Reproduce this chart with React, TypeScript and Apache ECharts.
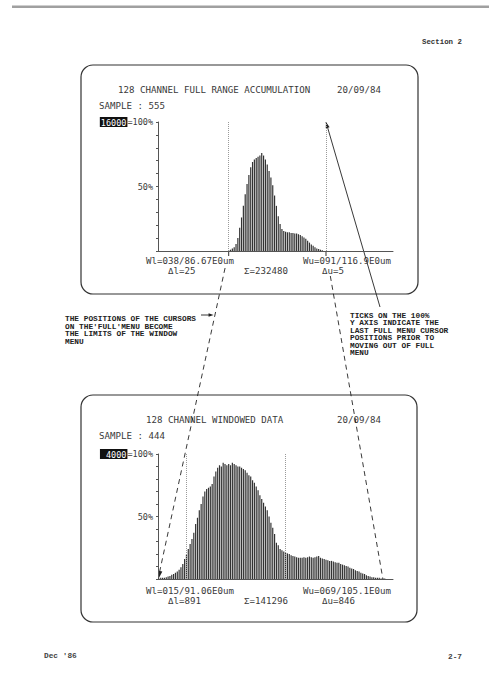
import React, { useEffect, useRef } from "react";
import * as echarts from "echarts";

// 128 analyser channels
const CHANNELS: string[] = Array.from({ length: 128 }, (_, i) => String(i));

// % of full scale (16000 counts = 100%)
const FULL_RANGE_PCT: number[] = [
  0, 0, 0, 0, 0, 0, 0, 0, 0, 0,
  0, 0, 0, 0, 0, 0, 0, 0, 0, 0,
  0, 0, 0, 0, 0, 0, 0, 0, 0, 0,
  0, 0, 0, 0, 0, 0, 0, 0, 0.5, 1,
  2, 3, 5.5, 10, 18, 26, 35, 44, 52, 59,
  65, 69, 71, 72, 73, 74, 76, 74, 71, 67,
  62, 57, 51, 43, 35, 27, 21, 17, 15.5, 15,
  14.5, 14.5, 14, 14, 13.5, 13.5, 13, 12.5, 11.5, 10.5,
  9.5, 8, 6.5, 5, 4, 3, 2, 1.5, 1, 0.5,
  0, 0, 0, 0, 0, 0, 0, 0, 0, 0,
  0, 0, 0, 0, 0, 0, 0, 0, 0, 0,
  0, 0, 0, 0, 0, 0, 0, 0, 0, 0,
  0, 0, 0, 0, 0, 0, 0, 0,
];

// % of full scale (4000 counts = 100%)
const WINDOWED_PCT: number[] = [
  0.5, 1, 1, 1, 1.5, 2, 2.5, 3.5, 4, 5,
  6, 7.5, 9.5, 12, 16, 19.5, 24, 28, 32, 37,
  44, 49, 55, 60, 66, 70, 72, 73, 74, 76,
  82, 86, 89, 91, 90, 93, 92, 91, 92, 91,
  93, 92, 91, 90, 90, 89, 88, 87, 85, 83,
  82, 79, 77, 74, 71, 67, 64, 61, 58, 55,
  50, 45, 41, 36, 29, 27, 24, 23, 22, 21,
  20.5, 20, 19, 18.5, 18, 17.5, 17, 17, 17, 17.5,
  17, 17.5, 18, 17.5, 17, 17.5, 18, 18.5, 17, 16.5,
  16, 15.5, 15, 14.5, 14.5, 14, 13.5, 13, 13, 12,
  11.5, 11, 10.5, 10, 9, 8.5, 8, 7, 6.5, 6,
  5, 4.5, 4, 3, 2.5, 2, 1.5, 1.5, 1, 1,
  1, 0.5, 0.5, 0.5, 0, 0, 0, 0,
];

const FULL_CURSORS: number[] = [38, 91];
const WINDOW_CURSORS: number[] = [15, 69];
const WINDOW_ENDS: number[] = [0, 122];

const FULL_SCALE = "16000";
const WINDOW_SCALE = "4000";
const Y_LABEL_MID = "50%";
const Y_LABEL_TOP = "100%";

const FULL_TEXT: string[] = [
  "128 CHANNEL FULL RANGE ACCUMULATION",
  "20/09/84",
  "SAMPLE : 555",
  "Wl=038/86.67E0um",
  "\u0394l=25",
  "\u03a3=232480",
  "Wu=091/116.9E0um",
  "\u0394u=5",
];
const WINDOW_TEXT: string[] = [
  "128 CHANNEL WINDOWED DATA",
  "20/09/84",
  "SAMPLE : 444",
  "Wl=015/91.06E0um",
  "\u0394l=891",
  "\u03a3=141296",
  "Wu=069/105.1E0um",
  "\u0394u=846",
];
const LEFT_NOTE: string[] = [
  "THE POSITIONS OF THE CURSORS",
  "ON THE'FULL'MENU BECOME",
  "THE LIMITS OF THE WINDOW",
  "MENU",
];
const RIGHT_NOTE: string[] = [
  "TICKS ON THE 100%",
  "Y AXIS INDICATE THE",
  "LAST FULL MENU CURSOR",
  "POSITIONS PRIOR TO",
  "MOVING OUT OF FULL",
  "MENU",
];
const PAGE_TEXT: string[] = ["Section 2", "Dec '86", "2-7"];

const SCREEN_FONT = "DejaVu Sans Mono";
const INK = "#3a3a3a";

function axisPair(gridIndex: number, scale: string) {
  return {
    x: {
      type: "category",
      gridIndex,
      data: CHANNELS,
      axisTick: { show: false },
      axisLabel: { show: false },
      axisLine: { lineStyle: { color: "#555", width: 1 } },
      splitLine: { show: false },
    },
    y: {
      type: "value",
      gridIndex,
      min: 0,
      max: 100,
      interval: 10,
      splitLine: { show: false },
      axisLine: { show: true, lineStyle: { color: "#555", width: 1 } },
      axisTick: { show: true, length: 2, lineStyle: { color: "#555" } },
      axisLabel: {
        margin: 5,
        color: INK,
        fontFamily: SCREEN_FONT,
        fontSize: 8.5,
        formatter: (v: number) =>
          v === 100 ? `{hl|${scale}}=${Y_LABEL_TOP}` : v === 50 ? Y_LABEL_MID : "",
        rich: {
          hl: {
            backgroundColor: "#111",
            color: "#fff",
            fontFamily: SCREEN_FONT,
            fontSize: 8.5,
            padding: [1, 1, 0, scale.length < 5 ? 6 : 1],
          },
        },
      },
    },
  };
}

function barSeries(idx: number, data: number[], cursors: number[]) {
  return {
    type: "bar",
    xAxisIndex: idx,
    yAxisIndex: idx,
    data,
    barCategoryGap: "35%",
    itemStyle: { color: "#333" },
    silent: true,
    markLine: {
      silent: true,
      symbol: ["none", "none"],
      label: { show: false },
      lineStyle: { color: "#9a9a9a", type: "dotted", width: 1 },
      data: cursors.map((c) => [
        { xAxis: c, yAxis: 0 },
        { xAxis: c, yAxis: 100 },
      ]),
    },
  };
}

function arrowHead(tip: number[], from: number[], len = 6, half = 2.3) {
  const dx = tip[0] - from[0];
  const dy = tip[1] - from[1];
  const L = Math.hypot(dx, dy);
  const ux = dx / L;
  const uy = dy / L;
  const bx = tip[0] - ux * len;
  const by = tip[1] - uy * len;
  return [
    [tip[0], tip[1]],
    [bx - uy * half, by + ux * half],
    [bx + uy * half, by - ux * half],
  ];
}

function pointAtY(a: number[], b: number[], y: number) {
  return [a[0] + ((b[0] - a[0]) * (y - a[1])) / (b[1] - a[1]), y];
}

function screenTexts(lines: string[], ox: number, oy: number, titleX: number) {
  const pos = [
    [titleX, 25],
    [256, 25],
    [18, 41],
    [65, 196.5],
    [87, 206.5],
    [163, 206.5],
    [222, 196.5],
    [241, 206.5],
  ];
  return lines.map((t, i) => ({
    type: "text",
    silent: true,
    x: ox + pos[i][0],
    y: oy + pos[i][1],
    scaleX: 1.1,
    style: {
      text: t,
      x: 0,
      y: 0,
      fill: INK,
      font: `8.3px "${SCREEN_FONT}"`,
      textAlign: "left",
      textVerticalAlign: "middle",
    },
  }));
}

function noteTexts(lines: string[], x: number, y0: number) {
  return lines.map((t, i) => ({
    type: "text",
    silent: true,
    style: {
      text: t,
      x,
      y: y0 + i * 7.5,
      fill: "#222",
      font: `bold 7.8px "Liberation Mono"`,
      textAlign: "left",
      textVerticalAlign: "middle",
    },
  }));
}

export default function App() {
  const ref = useRef<HTMLDivElement>(null);

  useEffect(() => {
    const el = ref.current!;
    const chart = echarts.init(el, null, { renderer: "svg" });
    const a0 = axisPair(0, FULL_SCALE);
    const a1 = axisPair(1, WINDOW_SCALE);
    chart.setOption({
      animation: false,
      backgroundColor: "#ffffff",
      grid: [
        { left: 158, top: 122, width: 235, height: 129, containLabel: false },
        { left: 158, top: 454, width: 235, height: 125, containLabel: false },
      ],
      xAxis: [a0.x, a1.x],
      yAxis: [a0.y, a1.y],
      series: [
        barSeries(0, FULL_RANGE_PCT, FULL_CURSORS),
        barSeries(1, WINDOWED_PCT, WINDOW_CURSORS),
      ],
    });

    const px = (g: number, c: number, v: number) =>
      chart.convertToPixel({ gridIndex: g }, [c, v]) as number[];

    const L1 = px(0, FULL_CURSORS[0], 0);
    const L2 = px(1, WINDOW_ENDS[0], 0);
    const R1 = px(0, FULL_CURSORS[1], 0);
    const R2 = px(1, WINDOW_ENDS[1], 0);
    const tickTop = px(0, FULL_CURSORS[1], 100);

    const dash = { stroke: "#222", lineWidth: 0.9, lineDash: [5, 4], fill: "none" };
    const leftStart = pointAtY(L1, L2, 268);
    const rightStart = pointAtY(R1, R2, 276);
    const noteArrowEnd = pointAtY(L1, L2, 315);
    const noteArrowTip = [noteArrowEnd[0] - 1.5, 315];
    const solidFrom = [380, 307];

    const elements: any[] = [
      // page rule
      { type: "rect", silent: true, shape: { x: 12, y: 5.5, width: 477, height: 2.5 }, style: { fill: "#a0a0a0" } },
      // screen frames
      { type: "rect", silent: true, shape: { x: 81, y: 65, width: 337, height: 229, r: 12 }, style: { fill: "none", stroke: "#333", lineWidth: 1.2 } },
      { type: "rect", silent: true, shape: { x: 81, y: 395, width: 336, height: 227, r: 12 }, style: { fill: "none", stroke: "#333", lineWidth: 1.2 } },
      ...screenTexts(FULL_TEXT, 81, 65, 37),
      ...screenTexts(WINDOW_TEXT, 81, 395, 65),
      // cursor ticks under the full-range axis
      ...FULL_CURSORS.map((c) => {
        const p = px(0, c, 0);
        return { type: "line", silent: true, shape: { x1: p[0], y1: p[1], x2: p[0], y2: p[1] + 5 }, style: { stroke: "#333", lineWidth: 1 } };
      }),
      // dashed leaders
      { type: "line", silent: true, shape: { x1: leftStart[0], y1: leftStart[1], x2: L2[0], y2: L2[1] - 4 }, style: dash },
      { type: "polygon", silent: true, shape: { points: arrowHead([L2[0], L2[1] - 1], L1, 7, 2) }, style: { fill: "#222" } },
      { type: "line", silent: true, shape: { x1: rightStart[0], y1: rightStart[1], x2: R2[0], y2: R2[1] }, style: dash },
      // solid leader to the 100% tick
      { type: "line", silent: true, shape: { x1: solidFrom[0], y1: solidFrom[1], x2: tickTop[0], y2: tickTop[1] }, style: { stroke: "#222", lineWidth: 0.9 } },
      { type: "polygon", silent: true, shape: { points: arrowHead(tickTop, solidFrom, 6, 2) }, style: { fill: "#222" } },
      // left note arrow
      { type: "line", silent: true, shape: { x1: 201, y1: 315, x2: noteArrowTip[0] - 4, y2: 315 }, style: { stroke: "#222", lineWidth: 0.9 } },
      { type: "polygon", silent: true, shape: { points: arrowHead(noteArrowTip, [201, 315], 5, 1.8) }, style: { fill: "#222" } },
      ...noteTexts(LEFT_NOTE, 65, 319.3),
      ...noteTexts(RIGHT_NOTE, 350, 315.7),
      { type: "text", silent: true, style: { text: PAGE_TEXT[0], x: 422, y: 42, fill: "#333", font: `bold 7.4px "Liberation Mono"`, textAlign: "left", textVerticalAlign: "middle" } },
      { type: "text", silent: true, style: { text: PAGE_TEXT[1], x: 44, y: 656, fill: "#444", font: `bold 7.8px "Liberation Mono"`, textAlign: "left", textVerticalAlign: "middle" } },
      { type: "text", silent: true, style: { text: PAGE_TEXT[2], x: 448, y: 657, fill: "#444", font: `bold 7.8px "Liberation Mono"`, textAlign: "left", textVerticalAlign: "middle" } },
    ];

    chart.setOption({ graphic: { elements } });
    return () => chart.dispose();
  }, []);

  return (
    <div
      ref={ref}
      style={{ position: "fixed", left: 0, top: 0, width: 489, height: 684, background: "#fff" }}
    />
  );
}
